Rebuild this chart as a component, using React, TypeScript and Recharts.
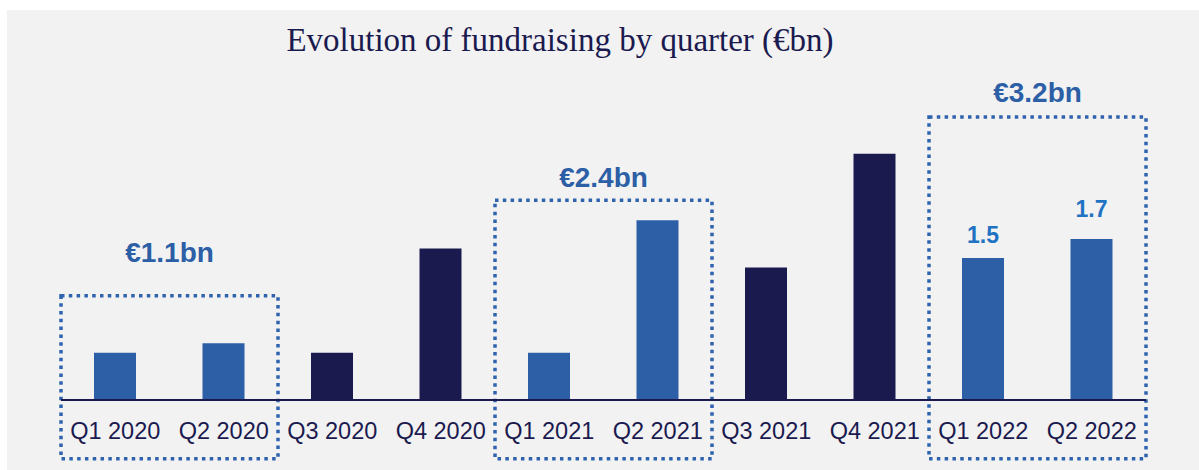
import { BarChart, Bar, XAxis, YAxis, Cell, LabelList, ReferenceArea } from 'recharts';

// quarterly fundraising, €bn
const quarters = [
  'Q1 2020', 'Q2 2020', 'Q3 2020', 'Q4 2020',
  'Q1 2021', 'Q2 2021', 'Q3 2021', 'Q4 2021',
  'Q1 2022', 'Q2 2022',
];
const amounts = [0.5, 0.6, 0.5, 1.6, 0.5, 1.9, 1.4, 2.6, 1.5, 1.7];

// H1 totals shown above the dotted boxes
const halfStarts = ['Q1 2020', 'Q1 2021', 'Q1 2022'];
const halfEnds = ['Q2 2020', 'Q2 2021', 'Q2 2022'];
const halfTotals = [1.1, 2.4, 3.2];

// quarters that get a value label
const labelledQuarters = ['Q1 2022', 'Q2 2022'];

const BLUE = '#2c5fa6';
const NAVY = '#1b1a4f';
const DOT = '#2f63ae';
const VALUE_BLUE = '#1f73c2';
const SANS = '"Liberation Sans", Arial, sans-serif';

// box layout (in y-axis units) and label gap, per half-year
const boxBottom = -0.62;
const boxTops = [1.1, 2.11, 2.99];
const labelGaps = [34, 13, 15];
const valueGaps = [15, 22];

const data = quarters.map((q, i) => ({
  quarter: q,
  amount: amounts[i],
  label: labelledQuarters.includes(q) ? amounts[i] : null,
}));

const isFirstHalf = (q: string) => q.startsWith('Q1') || q.startsWith('Q2');

const ValueLabel = (props: any) => {
  const { x, y, width, value, index } = props;
  if (value == null) return null;
  const k = labelledQuarters.indexOf(quarters[index]);
  return (
    <text
      x={x + width / 2}
      y={y - valueGaps[k]}
      textAnchor="middle"
      fill={VALUE_BLUE}
      fontSize={23}
      fontWeight={700}
      fontFamily={SANS}
    >
      {value}
    </text>
  );
};

const App = () => (
  <div style={{ position: 'absolute', left: 0, top: 0, width: 1199, height: 470, background: '#fff' }}>
    <div style={{ position: 'absolute', left: 7, top: 10, right: 0, bottom: 0, background: '#f2f2f2' }} />
    <div
      style={{
        position: 'absolute',
        left: 0,
        width: 1120,
        top: 24,
        textAlign: 'center',
        fontFamily: '"Liberation Serif", serif',
        fontSize: 33,
        lineHeight: '33px',
        color: NAVY,
      }}
    >
      Evolution of fundraising by quarter (€bn)
    </div>
    <div style={{ position: 'absolute', left: 0, top: 0 }}>
      <BarChart
        width={1199}
        height={470}
        data={data}
        margin={{ top: 116, right: 53, bottom: 40, left: 61 }}
      >
        <XAxis
          dataKey="quarter"
          height={30}
          tickLine={false}
          tickMargin={16}
          axisLine={{ stroke: NAVY, strokeWidth: 2 }}
          tick={{ fill: NAVY, fontSize: 23.5, fontFamily: SANS }}
          interval={0}
        />
        <YAxis hide domain={[0, 3]} />
        {halfStarts.map((start, i) => (
          <ReferenceArea
            key={start}
            x1={start}
            x2={halfEnds[i]}
            y1={boxBottom}
            y2={boxTops[i]}
            ifOverflow="visible"
            fill="none"
            fillOpacity={0}
            stroke={DOT}
            strokeWidth={3.5}
            strokeDasharray="3.5 4.3"
            label={{
              value: `€${halfTotals[i]}bn`,
              position: 'top',
              offset: labelGaps[i],
              fill: BLUE,
              fontSize: 28,
              fontWeight: 700,
              fontFamily: SANS,
            }}
          />
        ))}
        <Bar dataKey="amount" barSize={42} isAnimationActive={false}>
          {data.map((d) => (
            <Cell key={d.quarter} fill={isFirstHalf(d.quarter) ? BLUE : NAVY} />
          ))}
          <LabelList dataKey="label" content={ValueLabel} />
        </Bar>
      </BarChart>
    </div>
  </div>
);

export default App;
